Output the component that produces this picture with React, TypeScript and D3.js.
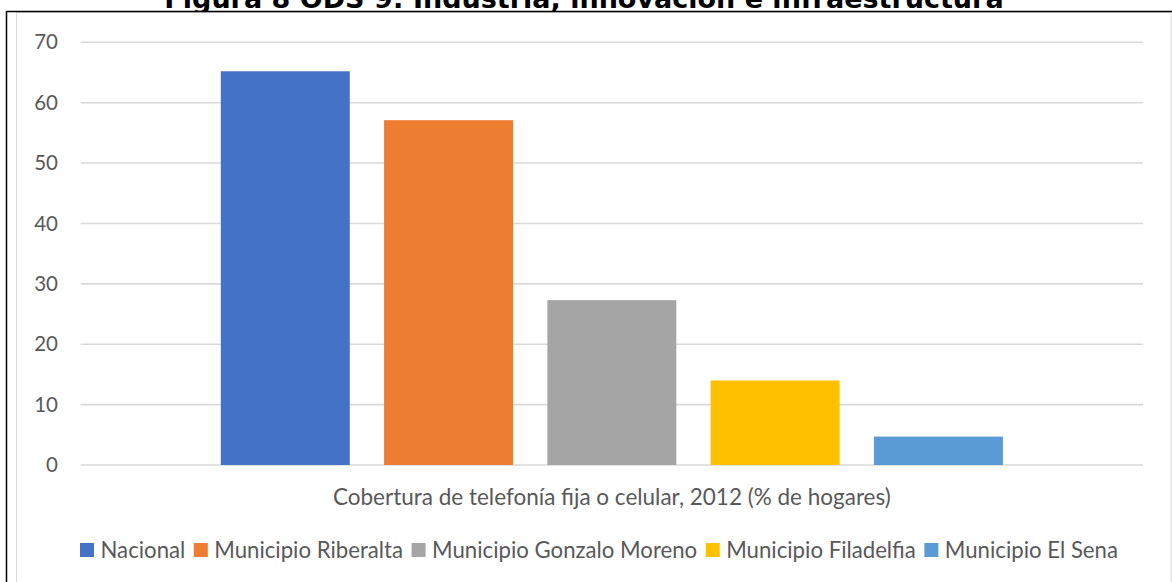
import React from 'react'
import * as d3 from 'd3'

const seriesNames = [
  'Nacional',
  'Municipio Riberalta',
  'Municipio Gonzalo Moreno',
  'Municipio Filadelfia',
  'Municipio El Sena',
]
const seriesValues = [65.2, 57.1, 27.3, 14.0, 4.7]
const seriesColors = ['#4472C4', '#ED7D31', '#A5A5A5', '#FFC000', '#5B9BD5']
const yTicks = [0, 10, 20, 30, 40, 50, 60, 70]
const categoryLabel = 'Cobertura de telefonía fija o celular, 2012 (% de hogares)'
const title = 'Figura 8 ODS 9: Industria, innovación e infraestructura'

const width = 1172
const height = 582
const font = 'Lato, "Open Sans", sans-serif'
const textColor = '#595959'

const App: React.FunctionComponent = () => {
  const legendRef = React.useRef<SVGGElement>(null)
  const [textWidths, setTextWidths] = React.useState<number[] | null>(null)

  const plotLeft = 80.7
  const plotRight = 1143
  const y = d3.scaleLinear().domain([0, 70]).range([465, 42.3])
  const x = d3
    .scaleBand<string>()
    .domain(seriesNames)
    .range([plotLeft, plotRight])
    .paddingInner(0.21)
    .paddingOuter(0.858)

  React.useLayoutEffect(() => {
    if (!legendRef.current) {
      return
    }
    const texts = Array.from(legendRef.current.querySelectorAll('text')) as SVGTextElement[]
    setTextWidths(texts.map(t => t.getComputedTextLength()))
  }, [])

  // legend layout: square, gap, label, gap
  const square = 14
  const squareGap = 6.5
  const itemGap = 8.5
  const widths = textWidths ?? seriesNames.map(() => 0)
  const total =
    d3.sum(widths) + seriesNames.length * (square + squareGap) + (seriesNames.length - 1) * itemGap
  const legendCenter = 599
  let cursor = legendCenter - total / 2
  const legendItems = seriesNames.map((name, i) => {
    const item = { name, color: seriesColors[i], x: cursor }
    cursor += square + squareGap + widths[i] + itemGap
    return item
  })

  return (
    <svg
      width={width}
      height={height}
      style={{ position: 'absolute', left: 0, top: 0, background: '#fff' }}
    >
      <rect x={0} y={0} width={width} height={height} fill="#fff" />
      <text
        x={584}
        y={8}
        textAnchor="middle"
        fontFamily='"DejaVu Sans", sans-serif'
        fontWeight="bold"
        fontSize={27}
        fill="#000"
      >
        {title}
      </text>

      {/* chart area border */}
      <rect x={16.5} y={12.5} width={1154.5} height={600} fill="#fff" stroke="#d9d9d9" strokeWidth={1} />
      {/* outer frame */}
      <line x1={6.5} x2={width} y1={11.5} y2={11.5} stroke="#000" strokeWidth={1.5} />
      <line x1={6.5} x2={6.5} y1={11} y2={height} stroke="#000" strokeWidth={1.5} />

      <g>
        {yTicks.map(t => (
          <g key={t}>
            <line x1={plotLeft} x2={plotRight} y1={y(t)} y2={y(t)} stroke="#d9d9d9" strokeWidth={1.6} />
            <text
              x={58}
              y={y(t)}
              dy="0.35em"
              textAnchor="end"
              fontFamily={font}
              fontSize={20.5}
              fill={textColor}
            >
              {t}
            </text>
          </g>
        ))}
      </g>

      <g>
        {seriesNames.map((name, i) => (
          <rect
            key={name}
            x={x(name)}
            y={y(seriesValues[i])}
            width={x.bandwidth()}
            height={y(0) - y(seriesValues[i])}
            fill={seriesColors[i]}
          />
        ))}
      </g>

      <text
        x={(plotLeft + plotRight) / 2}
        y={505}
        textAnchor="middle"
        fontFamily={font}
        fontSize={22.5}
        fill={textColor}
      >
        {categoryLabel}
      </text>

      <g ref={legendRef} style={{ visibility: textWidths ? 'visible' : 'hidden' }}>
        {legendItems.map(item => (
          <g key={item.name}>
            <rect x={item.x} y={543} width={square} height={square} fill={item.color} />
            <text
              x={item.x + square + squareGap}
              y={558}
              fontFamily={font}
              fontSize={22.2}
              fill={textColor}
            >
              {item.name}
            </text>
          </g>
        ))}
      </g>
    </svg>
  )
}

export default App
